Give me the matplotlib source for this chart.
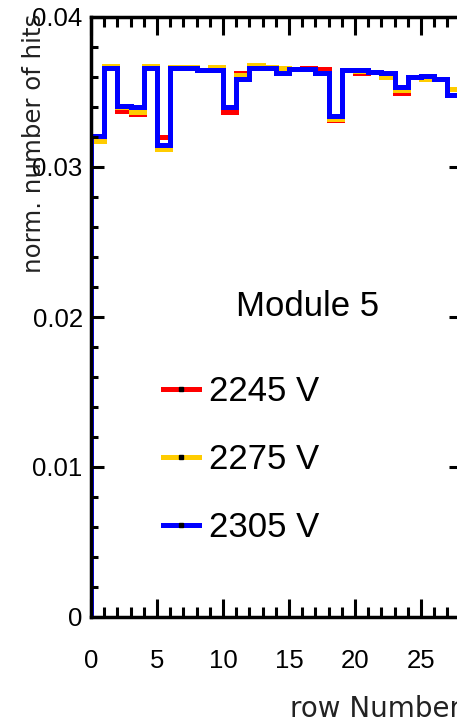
import matplotlib
matplotlib.use('Agg')
import numpy as np
import matplotlib.pyplot as plt
from matplotlib.lines import Line2D
from matplotlib.ticker import MultipleLocator, FuncFormatter

# row bins 0..27 (the plot is cut at the right edge)
row_edges = np.arange(0, 29)

hits_2245 = [0.03209, 0.03658, 0.03375, 0.03355, 0.03658, 0.03200, 0.03658,
             0.03658, 0.03645, 0.03645, 0.03369, 0.03624, 0.03658, 0.03658,
             0.03626, 0.03653, 0.03658, 0.03655, 0.03313, 0.03647, 0.03624,
             0.03636, 0.03624, 0.03495, 0.03600, 0.03610, 0.03590, 0.03480]
hits_2275 = [0.03172, 0.03675, 0.03400, 0.03370, 0.03675, 0.03120, 0.03665,
             0.03670, 0.03650, 0.03670, 0.03400, 0.03613, 0.03680, 0.03670,
             0.03658, 0.03655, 0.03653, 0.03626, 0.03323, 0.03647, 0.03640,
             0.03636, 0.03600, 0.03511, 0.03600, 0.03587, 0.03590, 0.03520]
hits_2305 = [0.03209, 0.03658, 0.03410, 0.03402, 0.03658, 0.03148, 0.03658,
             0.03658, 0.03645, 0.03645, 0.03400, 0.03590, 0.03658, 0.03658,
             0.03626, 0.03653, 0.03653, 0.03626, 0.03338, 0.03647, 0.03647,
             0.03636, 0.03624, 0.03531, 0.03600, 0.03610, 0.03590, 0.03480]

voltages = ['2245 V', '2275 V', '2305 V']
colors = ['#ff0000', '#ffcc00', '#0000ff']

W, H, DPI = 457, 721, 100
fig = plt.figure(figsize=(W / DPI, H / DPI), dpi=DPI)
# axes runs a little past the right edge of the picture, like the crop
ax = fig.add_axes([91 / W, 104 / H, 369.6 / W, 600 / H])

lw = 5 * 72 / DPI
for vals, c in zip([hits_2245, hits_2275, hits_2305], colors):
    ax.stairs(vals, row_edges, baseline=0, color=c, lw=lw)

ax.set_xlim(0, 28)
ax.set_ylim(0, 0.04)

ax.xaxis.set_major_locator(MultipleLocator(5))
ax.xaxis.set_minor_locator(MultipleLocator(1))
ax.yaxis.set_major_locator(MultipleLocator(0.01))
ax.yaxis.set_minor_locator(MultipleLocator(0.002))
ax.yaxis.set_major_formatter(FuncFormatter(lambda v, p: '%g' % round(v, 3)))

tick_font = 'Liberation Sans'
ax.tick_params(axis='x', which='major', direction='in', length=13, width=2.2,
               top=True, pad=23, labelsize=18.5)
ax.tick_params(axis='x', which='minor', direction='in', length=7, width=2.2,
               top=True)
ax.tick_params(axis='y', which='major', direction='in', length=9, width=2.2,
               right=True, pad=6, labelsize=18.5)
ax.tick_params(axis='y', which='minor', direction='in', length=5, width=2.2,
               right=False)
for lab in ax.get_xticklabels() + ax.get_yticklabels():
    lab.set_fontfamily(tick_font)

for s in ax.spines.values():
    s.set_linewidth(2.5)

ax.set_ylabel('norm. number of hits', fontsize=17.6, family='DejaVu Sans',
              color='#222222', loc='top')
ax.yaxis.set_label_coords(-0.122, 1.005)
ax.set_xlabel('row Number', fontsize=20, family='DejaVu Sans',
              color='#222222', loc='right')
ax.xaxis.set_label_coords(1.0, -0.13)

fig.text(236 / W, 1 - 316 / H, 'Module 5', fontsize=25, family=tick_font,
         va='baseline', ha='left')

handles = [Line2D([], [], color=c, lw=lw, marker='s', markersize=2.2,
                  markerfacecolor='black', markeredgecolor='black')
           for c in colors]
fig.legend(handles, voltages, loc='upper left',
           bbox_to_anchor=(163 / W, 1 - 375 / H), frameon=False,
           prop={'family': tick_font, 'size': 25}, handlelength=1.03,
           handletextpad=0.3, labelspacing=1.01, borderpad=0,
           borderaxespad=0, numpoints=1)

fig.savefig('out.png', dpi=DPI)
